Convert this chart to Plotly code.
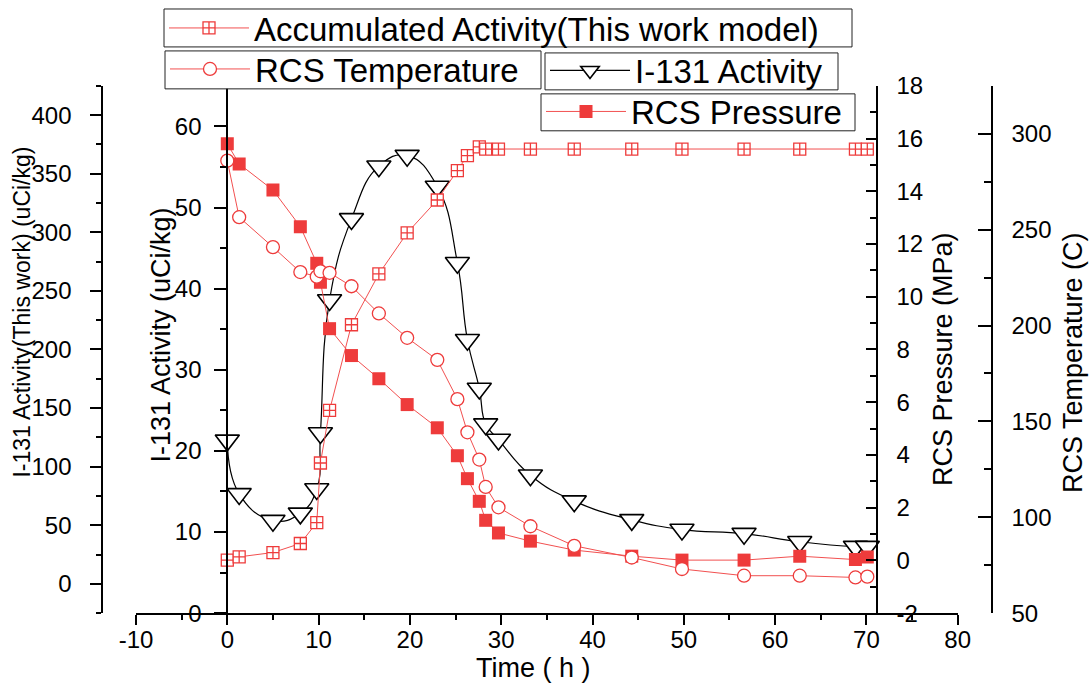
import plotly.graph_objects as go

# ---------------- data ----------------
time_h = [0, 1.3, 5.0, 8.0, 9.8, 10.2, 11.2, 13.6, 16.6, 19.7, 23.0, 25.2,
          26.3, 27.6, 28.3, 29.7, 33.2, 38.0, 44.3, 49.8, 56.6, 62.7, 68.8, 70.1]

i131_activity = [21.3, 14.7, 11.4, 12.3, 15.3, 22.2, 38.6, 48.6, 55.1, 56.4, 52.6, 43.2,
                 33.7, 27.7, 23.3, 21.4, 17.0, 13.8, 11.5, 10.3, 9.8, 8.8, 8.2, 8.2]

accumulated_activity = [20.2, 23.0, 26.7, 34.4, 52.3, 103.1, 148.0, 221.1, 264.5, 299.5, 327.6, 352.6,
                        365.4, 373.0, 371.1, 371.1, 371.1, 371.1, 371.1, 371.1, 371.1, 371.1, 371.1, 371.1]

rcs_pressure = [15.80, 15.04, 14.05, 12.66, 11.27, 10.55, 8.79, 7.77, 6.89, 5.91, 5.03, 3.97,
                3.10, 2.24, 1.52, 1.04, 0.73, 0.39, 0.16, 0.01, 0.01, 0.16, 0.03, 0.13]

rcs_temperature = [286.0, 256.5, 240.9, 227.9, 225.5, 228.3, 227.5, 220.5, 206.3, 193.6, 182.1, 161.6,
                   144.3, 130.1, 115.8, 105.2, 95.3, 85.1, 79.0, 73.0, 69.5, 69.5, 68.6, 69.0]

x_tick_vals = [-10, 0, 10, 20, 30, 40, 50, 60, 70, 80]
pressure_tick_vals = [-2, 0, 2, 4, 6, 8, 10, 12, 14, 16, 18]
activity_tick_vals = [0, 10, 20, 30, 40, 50, 60]
work_tick_vals = [0, 50, 100, 150, 200, 250, 300, 350, 400]
temp_tick_vals = [50, 100, 150, 200, 250, 300]

# ---------------- styling ----------------
W, H = 1090, 683
FONT = "Liberation Sans, Arial, sans-serif"
RED = "#EE3B3B"
RED_LINE = "#F25050"
NBSP = "\u00a0"


def px_x(p):
    return p / W


def px_y(p):
    return 1 - p / H


fig = go.Figure()

fig.add_trace(go.Scatter(
    x=time_h, y=accumulated_activity, yaxis="y2", name="Accumulated Activity(This work model)",
    mode="lines+markers", line=dict(color=RED_LINE, width=1),
    marker=dict(symbol="square-cross", size=12, color="white", line=dict(color=RED, width=1.3)),
    legend="legend"))

fig.add_trace(go.Scatter(
    x=time_h, y=rcs_temperature, yaxis="y4", name="RCS Temperature",
    mode="lines+markers", line=dict(color=RED_LINE, width=1),
    marker=dict(symbol="circle", size=13, color="white", line=dict(color=RED, width=1.3)),
    legend="legend2"))

fig.add_trace(go.Scatter(
    x=time_h, y=rcs_pressure, yaxis="y3", name="RCS Pressure",
    mode="lines+markers", line=dict(color=RED_LINE, width=1),
    marker=dict(symbol="square", size=13, color=RED, line=dict(color=RED, width=0)),
    legend="legend4"))

fig.add_trace(go.Scatter(
    x=time_h, y=i131_activity, yaxis="y", name="I-131 Activity",
    mode="lines+markers", line=dict(color="black", width=1.2, shape="spline", smoothing=1.3),
    marker=dict(symbol="triangle-down", size=21, color="white", line=dict(color="black", width=1.6)),
    legend="legend3"))

y_domain = [px_y(613), px_y(85)]
tickfont = dict(family=FONT, size=24, color="black")

common = dict(showgrid=False, zeroline=False, showline=True, linecolor="black", linewidth=2,
              tickcolor="black", tickwidth=2, tickfont=tickfont, automargin=False)

fig.update_layout(
    width=W, height=H,
    margin=dict(l=0, r=0, t=0, b=0),
    template="none",
    showlegend=True,
    paper_bgcolor="white", plot_bgcolor="white",
    font=dict(family=FONT, color="black"),
    xaxis=dict(domain=[px_x(136), px_x(957.7)], range=[-10, 80], anchor="y",
               tickvals=x_tick_vals, ticktext=[str(v) for v in x_tick_vals],
               ticks="outside", ticklen=10, ticklabelstandoff=-6,
               minor=dict(dtick=5, tick0=0, ticks="outside", ticklen=5, tickcolor="black", tickwidth=2),
               **common),
    yaxis=dict(domain=y_domain, range=[0, 65], anchor="free", position=px_x(227.3), side="left",
               tickvals=activity_tick_vals, ticks="outside", ticklen=12, ticklabelstandoff=8,
               minor=dict(dtick=5, tick0=0, ticks="outside", ticklen=6, tickcolor="black", tickwidth=2),
               **common),
    yaxis2=dict(domain=y_domain, range=[-25, 425], anchor="free", position=px_x(101.7), side="left",
                overlaying="y", tickvals=work_tick_vals,
                ticktext=[str(v) + NBSP + NBSP for v in work_tick_vals],
                ticks="outside", ticklen=11,
                minor=dict(dtick=25, tick0=0, ticks="outside", ticklen=5, tickcolor="black", tickwidth=2),
                **common),
    yaxis3=dict(domain=y_domain, range=[-2, 18], anchor="free", position=px_x(876.7), side="right",
                overlaying="y", tickvals=pressure_tick_vals, ticktext=[str(v) for v in pressure_tick_vals],
                ticks="inside", ticklen=10, ticklabelstandoff=14,
                minor=dict(dtick=1, tick0=0, ticks="inside", ticklen=6, tickcolor="black", tickwidth=2),
                **common),
    yaxis4=dict(domain=y_domain, range=[50, 325], anchor="free", position=px_x(991.7), side="right",
                overlaying="y", tickvals=temp_tick_vals, ticks="inside", ticklen=13, ticklabelstandoff=14,
                minor=dict(dtick=25, tick0=50, ticks="inside", ticklen=7, tickcolor="black", tickwidth=2),
                **common),
)

# legend frames (reference pixel boxes) drawn as shapes, legends sit inside them
legend_boxes = [(164, 8, 852, 46), (165, 50, 541, 88), (545, 52, 838, 89), (541, 93, 855, 130)]
for (x0, y0, x1, y1) in legend_boxes:
    fig.add_shape(type="rect", xref="paper", yref="paper",
                  x0=px_x(x0), x1=px_x(x1), y0=px_y(y1), y1=px_y(y0),
                  line=dict(color="#222222", width=1), fillcolor="white", layer="above")

leg_common = dict(bgcolor="rgba(0,0,0,0)", borderwidth=0,
                  font=dict(family=FONT, size=33, color="black"),
                  xanchor="left", yanchor="middle", itemwidth=80)
names = ["legend", "legend2", "legend3", "legend4"]
legend_layout = {}
for name, (x0, y0, x1, y1) in zip(names, legend_boxes):
    legend_layout[name] = dict(x=px_x(x0), y=px_y((y0 + y1) / 2), **leg_common)
fig.update_layout(**legend_layout)

annots = [
    dict(text="I-131 Activity(This work) (uCi/kg)", x=px_x(22), y=px_y(312), size=23),
    dict(text="I-131 Activity (uCi/kg)", x=px_x(161), y=px_y(335), size=27),
    dict(text="RCS Pressure (MPa)", x=px_x(943.5), y=px_y(359), size=27),
    dict(text="RCS Temperature (C)", x=px_x(1073.5), y=px_y(362), size=27),
]
for a in annots:
    fig.add_annotation(xref="paper", yref="paper", textangle=-90, showarrow=False,
                       xanchor="center", yanchor="middle", text=a["text"], x=a["x"], y=a["y"],
                       font=dict(family=FONT, size=a["size"], color="black"))
fig.add_annotation(text="Time ( h )", xref="paper", yref="paper", x=px_x(533), y=px_y(667.5),
                   showarrow=False, xanchor="center", yanchor="middle",
                   font=dict(family=FONT, size=27, color="black"))

fig.write_html("out.html", config={"displayModeBar": False},
               post_script="document.body.style.margin='0px';")
